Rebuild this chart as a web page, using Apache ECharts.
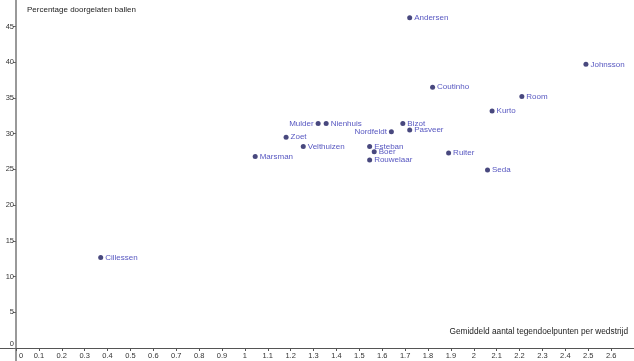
<!DOCTYPE html>
<html>
<head>
<meta charset="utf-8">
<script src="https://cdn.jsdelivr.net/npm/echarts@6/dist/echarts.min.js"></script>
<style>
html,body{margin:0;padding:0;background:#fff;}
#chart{width:634px;height:361px;}
</style>
</head>
<body>
<div id="chart"></div>
<script>
const keepers = ['Andersen','Johnsson','Coutinho','Room','Kurto','Bizot','Pasveer','Nordfeldt','Mulder','Nienhuis','Zoet','Velthuizen','Marsman','Esteban','Boer','Rouwelaar','Ruiter','Seda','Cillessen'];
const goalsAgainstPerMatch = [1.72,2.49,1.82,2.21,2.08,1.69,1.72,1.64,1.32,1.355,1.18,1.255,1.045,1.545,1.565,1.545,1.89,2.06,0.37];
const pctConceded = [46.2,39.7,36.5,35.2,33.15,31.4,30.5,30.25,31.4,31.4,29.5,28.2,26.8,28.2,27.45,26.3,27.3,24.9,12.65];
const xTicks = [0,0.1,0.2,0.3,0.4,0.5,0.6,0.7,0.8,0.9,1,1.1,1.2,1.3,1.4,1.5,1.6,1.7,1.8,1.9,2,2.1,2.2,2.3,2.4,2.5,2.6];
const yTicks = [0,5,10,15,20,25,30,35,40,45];
const xTitle = 'Gemiddeld aantal tegendoelpunten per wedstrijd';
const yTitle = 'Percentage doorgelaten ballen';

const FONT = 'Liberation Sans, Arial, sans-serif';
const labelStyle = {
  Mulder: {position: 'left'},
  Nordfeldt: {position: 'left'},
  Cillessen: {position: 'right', offset: [0, -6]},
  Esteban: {position: 'right', offset: [0, -3]},
  Bizot: {position: 'right', offset: [0, -2]}
};

const data = keepers.map((n, i) => {
  const d = {name: n, value: [goalsAgainstPerMatch[i], pctConceded[i]]};
  if (labelStyle[n]) d.label = labelStyle[n];
  return d;
});

const chart = echarts.init(document.getElementById('chart'), null, {renderer: 'canvas'});
chart.setOption({
  animation: false,
  backgroundColor: '#fff',
  grid: {left: 16, right: 0, top: 0, bottom: 13, containLabel: false},
  xAxis: {
    type: 'value', min: 0, max: 2.7,
    splitLine: {show: false},
    axisLine: {onZero: false, lineStyle: {color: '#555', width: 1}},
    axisTick: {show: true, customValues: xTicks, length: 3, lineStyle: {color: '#555'}},
    axisLabel: {
      customValues: xTicks, color: '#333', fontSize: 7.5, fontFamily: FONT, margin: 4,
      formatter: v => v === 0 ? '{z|0}' : String(v),
      rich: {z: {padding: [0, 0, 0, 10], fontSize: 7.5, fontFamily: FONT, color: '#333'}}
    }
  },
  yAxis: {
    type: 'value', min: 0, max: 48.7,
    splitLine: {show: false},
    axisLine: {onZero: false, lineStyle: {color: '#999', width: 2}},
    axisTick: {show: true, customValues: yTicks, length: 3, lineStyle: {color: '#666'}},
    axisLabel: {
      customValues: yTicks, color: '#333', fontSize: 7.5, fontFamily: FONT, margin: 2,
      formatter: v => v === 0 ? '{z|0}' : String(v),
      rich: {z: {padding: [0, 0, 8, 0], fontSize: 7.5, fontFamily: FONT, color: '#333'}}
    }
  },
  graphic: [
    {type: 'line', shape: {x1: 0, y1: 348.5, x2: 16, y2: 348.5}, style: {stroke: '#555', lineWidth: 1}, silent: true},
    {type: 'line', shape: {x1: 16, y1: 348, x2: 16, y2: 361}, style: {stroke: '#999', lineWidth: 2}, silent: true},
    {type: 'text', left: 27, top: 6, style: {text: yTitle, fontSize: 8, fontFamily: FONT, fill: '#222'}},
    {type: 'text', right: 6, top: 328, style: {text: xTitle, fontSize: 8.3, fontFamily: FONT, fill: '#222'}}
  ],
  series: [{
    type: 'scatter',
    data: data,
    symbol: 'circle',
    symbolSize: 5,
    itemStyle: {color: '#1a1a5e'},
    label: {
      show: true, position: 'right', distance: 2,
      formatter: '{b}', color: '#2b2bb0', fontSize: 8, fontFamily: FONT
    },
    labelLayout: {hideOverlap: false}
  }]
});
</script>
</body>
</html>
